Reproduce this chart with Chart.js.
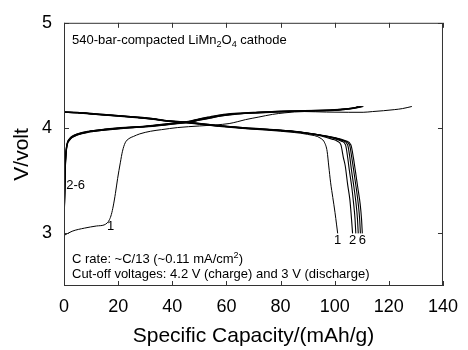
<!DOCTYPE html>
<html>
<head>
<meta charset="utf-8">
<script src="https://cdn.jsdelivr.net/npm/chart.js@4/dist/chart.umd.min.js"></script>
<style>
  html, body { margin: 0; padding: 0; background: #fff; }
  #c { display: block; }
</style>
</head>
<body>
<canvas id="c" width="468" height="350"></canvas>
<script>
// Axis ticks
const xTicks = [0, 20, 40, 60, 80, 100, 120, 140];
const yTicks = [3, 4, 5];

// First charge (capacity mAh/g, voltage V)
const charge1Cap  = [0, 3, 7.6, 12, 14.8, 16, 16.8, 17.5, 18.2, 19, 19.8, 20.8, 21.6, 22.6, 24, 25.6, 28, 32, 36, 42, 50, 56, 61, 64, 67, 72, 77, 81.6, 88.8, 97, 105, 110.5, 114, 118, 122, 125, 128.5];
const charge1Volt = [2.98, 3.02, 3.05, 3.07, 3.08, 3.10, 3.13, 3.18, 3.26, 3.38, 3.52, 3.67, 3.78, 3.86, 3.90, 3.92, 3.945, 3.97, 3.985, 4.005, 4.02, 4.03, 4.043, 4.06, 4.08, 4.105, 4.13, 4.145, 4.157, 4.152, 4.15, 4.15, 4.157, 4.165, 4.175, 4.185, 4.205];

// Charges 2-6
const chargeCap2  = [0, 0.2, 0.4, 0.7, 1.2, 2, 3, 5, 9, 15, 21, 30, 36, 41, 46, 50, 54, 58, 63, 70, 78, 86, 94, 100, 104, 107, 108.6];
const chargeVolt2 = [3.00, 3.30, 3.55, 3.75, 3.85, 3.89, 3.915, 3.94, 3.965, 3.985, 4.0, 4.015, 4.03, 4.045, 4.058, 4.08, 4.10, 4.12, 4.135, 4.145, 4.155, 4.16, 4.165, 4.17, 4.18, 4.19, 4.205];
const chargeCap3  = [0, 0.2, 0.4, 0.7, 1.2, 2, 3, 5, 9, 15, 21, 30, 36, 41, 46, 50, 54, 58, 63, 70, 78, 86, 94, 100, 104, 107, 109.2];
const chargeVolt3 = [3.00, 3.31, 3.56, 3.76, 3.855, 3.895, 3.92, 3.944, 3.968, 3.988, 4.003, 4.018, 4.033, 4.048, 4.062, 4.085, 4.105, 4.124, 4.138, 4.148, 4.158, 4.163, 4.168, 4.173, 4.182, 4.192, 4.205];
const chargeCap4  = [0, 0.2, 0.4, 0.7, 1.2, 2, 3, 5, 9, 15, 21, 30, 36, 41, 46, 50, 54, 58, 63, 70, 78, 86, 94, 100, 104, 107, 109.7];
const chargeVolt4 = [3.00, 3.29, 3.54, 3.74, 3.845, 3.885, 3.912, 3.937, 3.962, 3.982, 3.997, 4.012, 4.027, 4.042, 4.055, 4.076, 4.096, 4.116, 4.132, 4.143, 4.153, 4.159, 4.164, 4.169, 4.178, 4.188, 4.205];
const chargeCap5  = [0, 0.2, 0.4, 0.7, 1.2, 2, 3, 5, 9, 15, 21, 30, 36, 41, 46, 50, 54, 58, 63, 70, 78, 86, 94, 100, 104, 107, 110.2];
const chargeVolt5 = [3.00, 3.32, 3.57, 3.77, 3.86, 3.898, 3.922, 3.946, 3.97, 3.99, 4.005, 4.02, 4.036, 4.05, 4.064, 4.088, 4.108, 4.127, 4.14, 4.15, 4.16, 4.165, 4.17, 4.175, 4.183, 4.193, 4.205];
const chargeCap6  = [0, 0.2, 0.4, 0.7, 1.2, 2, 3, 5, 9, 15, 21, 30, 36, 41, 46, 50, 54, 58, 63, 70, 78, 86, 94, 100, 104, 107, 110.6];
const chargeVolt6 = [3.00, 3.28, 3.53, 3.73, 3.84, 3.882, 3.91, 3.935, 3.96, 3.98, 3.995, 4.01, 4.025, 4.04, 4.053, 4.074, 4.094, 4.114, 4.13, 4.142, 4.152, 4.158, 4.163, 4.168, 4.177, 4.187, 4.205];

// Discharges 1-6
const discharge1Cap  = [0, 5, 12, 20, 27, 33, 37, 44, 50, 57, 66, 75, 85, 90, 95, 96.3, 97.2, 97.8, 98.5, 99.3, 100.1, 100.7, 101.1];
const discharge1Volt = [4.15, 4.143, 4.128, 4.112, 4.097, 4.082, 4.067, 4.052, 4.036, 4.016, 3.996, 3.98, 3.958, 3.94, 3.90, 3.86, 3.78, 3.64, 3.48, 3.34, 3.20, 3.08, 3.00];
const discharge2Cap  = [0, 5, 12, 20, 27, 33, 37, 44, 50, 57, 66, 75, 85, 92, 95, 99, 101, 102.3, 103.2, 103.9, 104.8, 105.6, 106.2, 106.6];
const discharge2Volt = [4.15, 4.145, 4.13, 4.115, 4.10, 4.085, 4.07, 4.055, 4.04, 4.02, 4.0, 3.985, 3.965, 3.94, 3.925, 3.895, 3.875, 3.84, 3.72, 3.64, 3.46, 3.32, 3.14, 3.00];
const discharge3Cap  = [0, 5, 12, 20, 27, 33, 37, 44, 50, 57, 66, 75, 85, 92, 95, 100, 102.5, 104, 104.8, 105.4, 106.3, 107, 107.5, 107.8];
const discharge3Volt = [4.152, 4.147, 4.132, 4.117, 4.102, 4.087, 4.072, 4.057, 4.042, 4.022, 4.002, 3.987, 3.967, 3.943, 3.93, 3.90, 3.875, 3.84, 3.72, 3.60, 3.44, 3.28, 3.14, 3.00];
const discharge4Cap  = [0, 5, 12, 20, 27, 33, 37, 44, 50, 57, 66, 75, 85, 92, 95, 100, 103, 104.8, 105.6, 106.2, 107.1, 107.9, 108.4, 108.7];
const discharge4Volt = [4.153, 4.148, 4.134, 4.119, 4.104, 4.089, 4.074, 4.059, 4.044, 4.024, 4.004, 3.989, 3.969, 3.945, 3.93, 3.905, 3.88, 3.84, 3.72, 3.60, 3.44, 3.28, 3.14, 3.00];
const discharge5Cap  = [0, 5, 12, 20, 27, 33, 37, 44, 50, 57, 66, 75, 85, 92, 95, 100, 103.5, 105.5, 106.3, 107, 107.9, 108.7, 109.2, 109.5];
const discharge5Volt = [4.151, 4.146, 4.131, 4.116, 4.101, 4.086, 4.071, 4.056, 4.041, 4.021, 4.001, 3.986, 3.966, 3.944, 3.932, 3.907, 3.88, 3.84, 3.72, 3.60, 3.44, 3.28, 3.14, 3.00];
const discharge6Cap  = [0, 5, 12, 20, 27, 33, 37, 44, 50, 57, 66, 75, 85, 92, 95, 100, 104, 106, 106.9, 107.6, 108.5, 109.4, 109.9, 110.2];
const discharge6Volt = [4.154, 4.149, 4.135, 4.12, 4.105, 4.09, 4.075, 4.06, 4.045, 4.025, 4.005, 3.99, 3.97, 3.946, 3.934, 3.91, 3.88, 3.84, 3.72, 3.60, 3.44, 3.28, 3.14, 3.00];

// Cycle labels placed in data coordinates
const cycleLabels = [
  { text: '2-6', x: 0.8,   y: 3.46, align: 'left' },
  { text: '1',   x: 17.2,  y: 3.07, align: 'center' },
  { text: '1',   x: 101.1, y: 2.93, align: 'center' },
  { text: '2',   x: 106.6, y: 2.93, align: 'center' },
  { text: '6',   x: 110.2, y: 2.93, align: 'center' }
];

const FONT = '"Liberation Sans", Arial, Helvetica, sans-serif';

function toPoints(cap, volt) {
  return cap.map((c, i) => ({ x: c, y: volt[i] }));
}

function curve(cap, volt, width) {
  return {
    data: toPoints(cap, volt),
    showLine: true,
    borderColor: '#000',
    borderWidth: width,
    pointRadius: 0,
    fill: false,
    cubicInterpolationMode: 'monotone'
  };
}

// Draw text made of normal / subscript / superscript runs
function drawRich(ctx, parts, x, y, size) {
  let cx = x;
  parts.forEach(p => {
    const s = p.sub || p.sup ? size * 0.7 : size;
    ctx.font = s + 'px ' + FONT;
    const dy = p.sub ? size * 0.25 : (p.sup ? -size * 0.38 : 0);
    ctx.fillText(p.t, cx, y + dy);
    cx += ctx.measureText(p.t).width;
  });
}

const framePlugin = {
  id: 'frame',
  afterDraw(chart) {
    const { ctx, chartArea: a, scales } = chart;
    const xs = scales.x, ys = scales.y;
    ctx.save();
    ctx.strokeStyle = '#333';
    ctx.lineWidth = 1;
    ctx.strokeRect(a.left + 0.5, a.top + 0.5, a.right - a.left - 1, a.bottom - a.top - 1);
    const tl = 5;
    ctx.beginPath();
    xTicks.forEach(v => {
      const px = Math.round(xs.getPixelForValue(v)) + 0.5;
      ctx.moveTo(px, a.bottom); ctx.lineTo(px, a.bottom - tl);
      ctx.moveTo(px, a.top); ctx.lineTo(px, a.top + tl);
    });
    yTicks.forEach(v => {
      const py = Math.round(ys.getPixelForValue(v)) + 0.5;
      ctx.moveTo(a.left, py); ctx.lineTo(a.left + tl, py);
      ctx.moveTo(a.right, py); ctx.lineTo(a.right - tl, py);
    });
    ctx.stroke();

    // annotations
    ctx.fillStyle = '#000';
    ctx.textBaseline = 'alphabetic';
    ctx.textAlign = 'left';
    drawRich(ctx, [
      { t: '540-bar-compacted LiMn' }, { t: '2', sub: true },
      { t: 'O' }, { t: '4', sub: true }, { t: ' cathode' }
    ], a.left + 8, a.top + 21, 13);
    drawRich(ctx, [
      { t: 'C rate: ~C/13 (~0.11 mA/cm' }, { t: '2', sup: true }, { t: ')' }
    ], a.left + 8, a.bottom - 23, 13);
    drawRich(ctx, [
      { t: 'Cut-off voltages: 4.2 V (charge) and 3 V (discharge)' }
    ], a.left + 8, a.bottom - 8, 13);

    ctx.font = '13px ' + FONT;
    ctx.textBaseline = 'middle';
    cycleLabels.forEach(l => {
      ctx.textAlign = l.align;
      ctx.fillText(l.text, xs.getPixelForValue(l.x), ys.getPixelForValue(l.y));
    });
    ctx.restore();
  }
};

new Chart(document.getElementById('c'), {
  type: 'scatter',
  data: {
    datasets: [
      curve(charge1Cap, charge1Volt, 1),
      curve(chargeCap2, chargeVolt2, 1.1),
      curve(chargeCap3, chargeVolt3, 1.1),
      curve(chargeCap4, chargeVolt4, 1.1),
      curve(chargeCap5, chargeVolt5, 1.1),
      curve(chargeCap6, chargeVolt6, 1.1),
      curve(discharge1Cap, discharge1Volt, 1),
      curve(discharge2Cap, discharge2Volt, 1.1),
      curve(discharge3Cap, discharge3Volt, 1.1),
      curve(discharge4Cap, discharge4Volt, 1.1),
      curve(discharge5Cap, discharge5Volt, 1.1),
      curve(discharge6Cap, discharge6Volt, 1.1)
    ]
  },
  options: {
    responsive: false,
    animation: false,
    devicePixelRatio: 1,
    layout: { padding: { top: 17, right: 16, left: 0, bottom: 0 } },
    plugins: { legend: { display: false }, tooltip: { enabled: false } },
    scales: {
      x: {
        type: 'linear',
        min: 0, max: 140,
        afterBuildTicks: s => { s.ticks = xTicks.map(v => ({ value: v })); },
        afterFit: s => { s.height = 64; },
        grid: { display: false, drawTicks: false },
        border: { display: false },
        ticks: { padding: 10, color: '#000', maxRotation: 0, autoSkip: false, font: { family: FONT, size: 18 } },
        title: { display: true, text: 'Specific Capacity/(mAh/g)', color: '#000', font: { family: FONT, size: 21 }, padding: { top: 0, bottom: 1 } }
      },
      y: {
        type: 'linear',
        min: 2.5, max: 5,
        afterBuildTicks: s => { s.ticks = yTicks.map(v => ({ value: v })); },
        afterFit: s => { s.width = 64; },
        grid: { display: false, drawTicks: false },
        border: { display: false },
        ticks: { padding: 12, color: '#000', font: { family: FONT, size: 18 } },
        title: { display: true, text: 'V/volt', color: '#000', font: { family: FONT, size: 21 }, padding: { top: 10, bottom: 0 } }
      }
    }
  },
  plugins: [framePlugin]
});
</script>
</body>
</html>
